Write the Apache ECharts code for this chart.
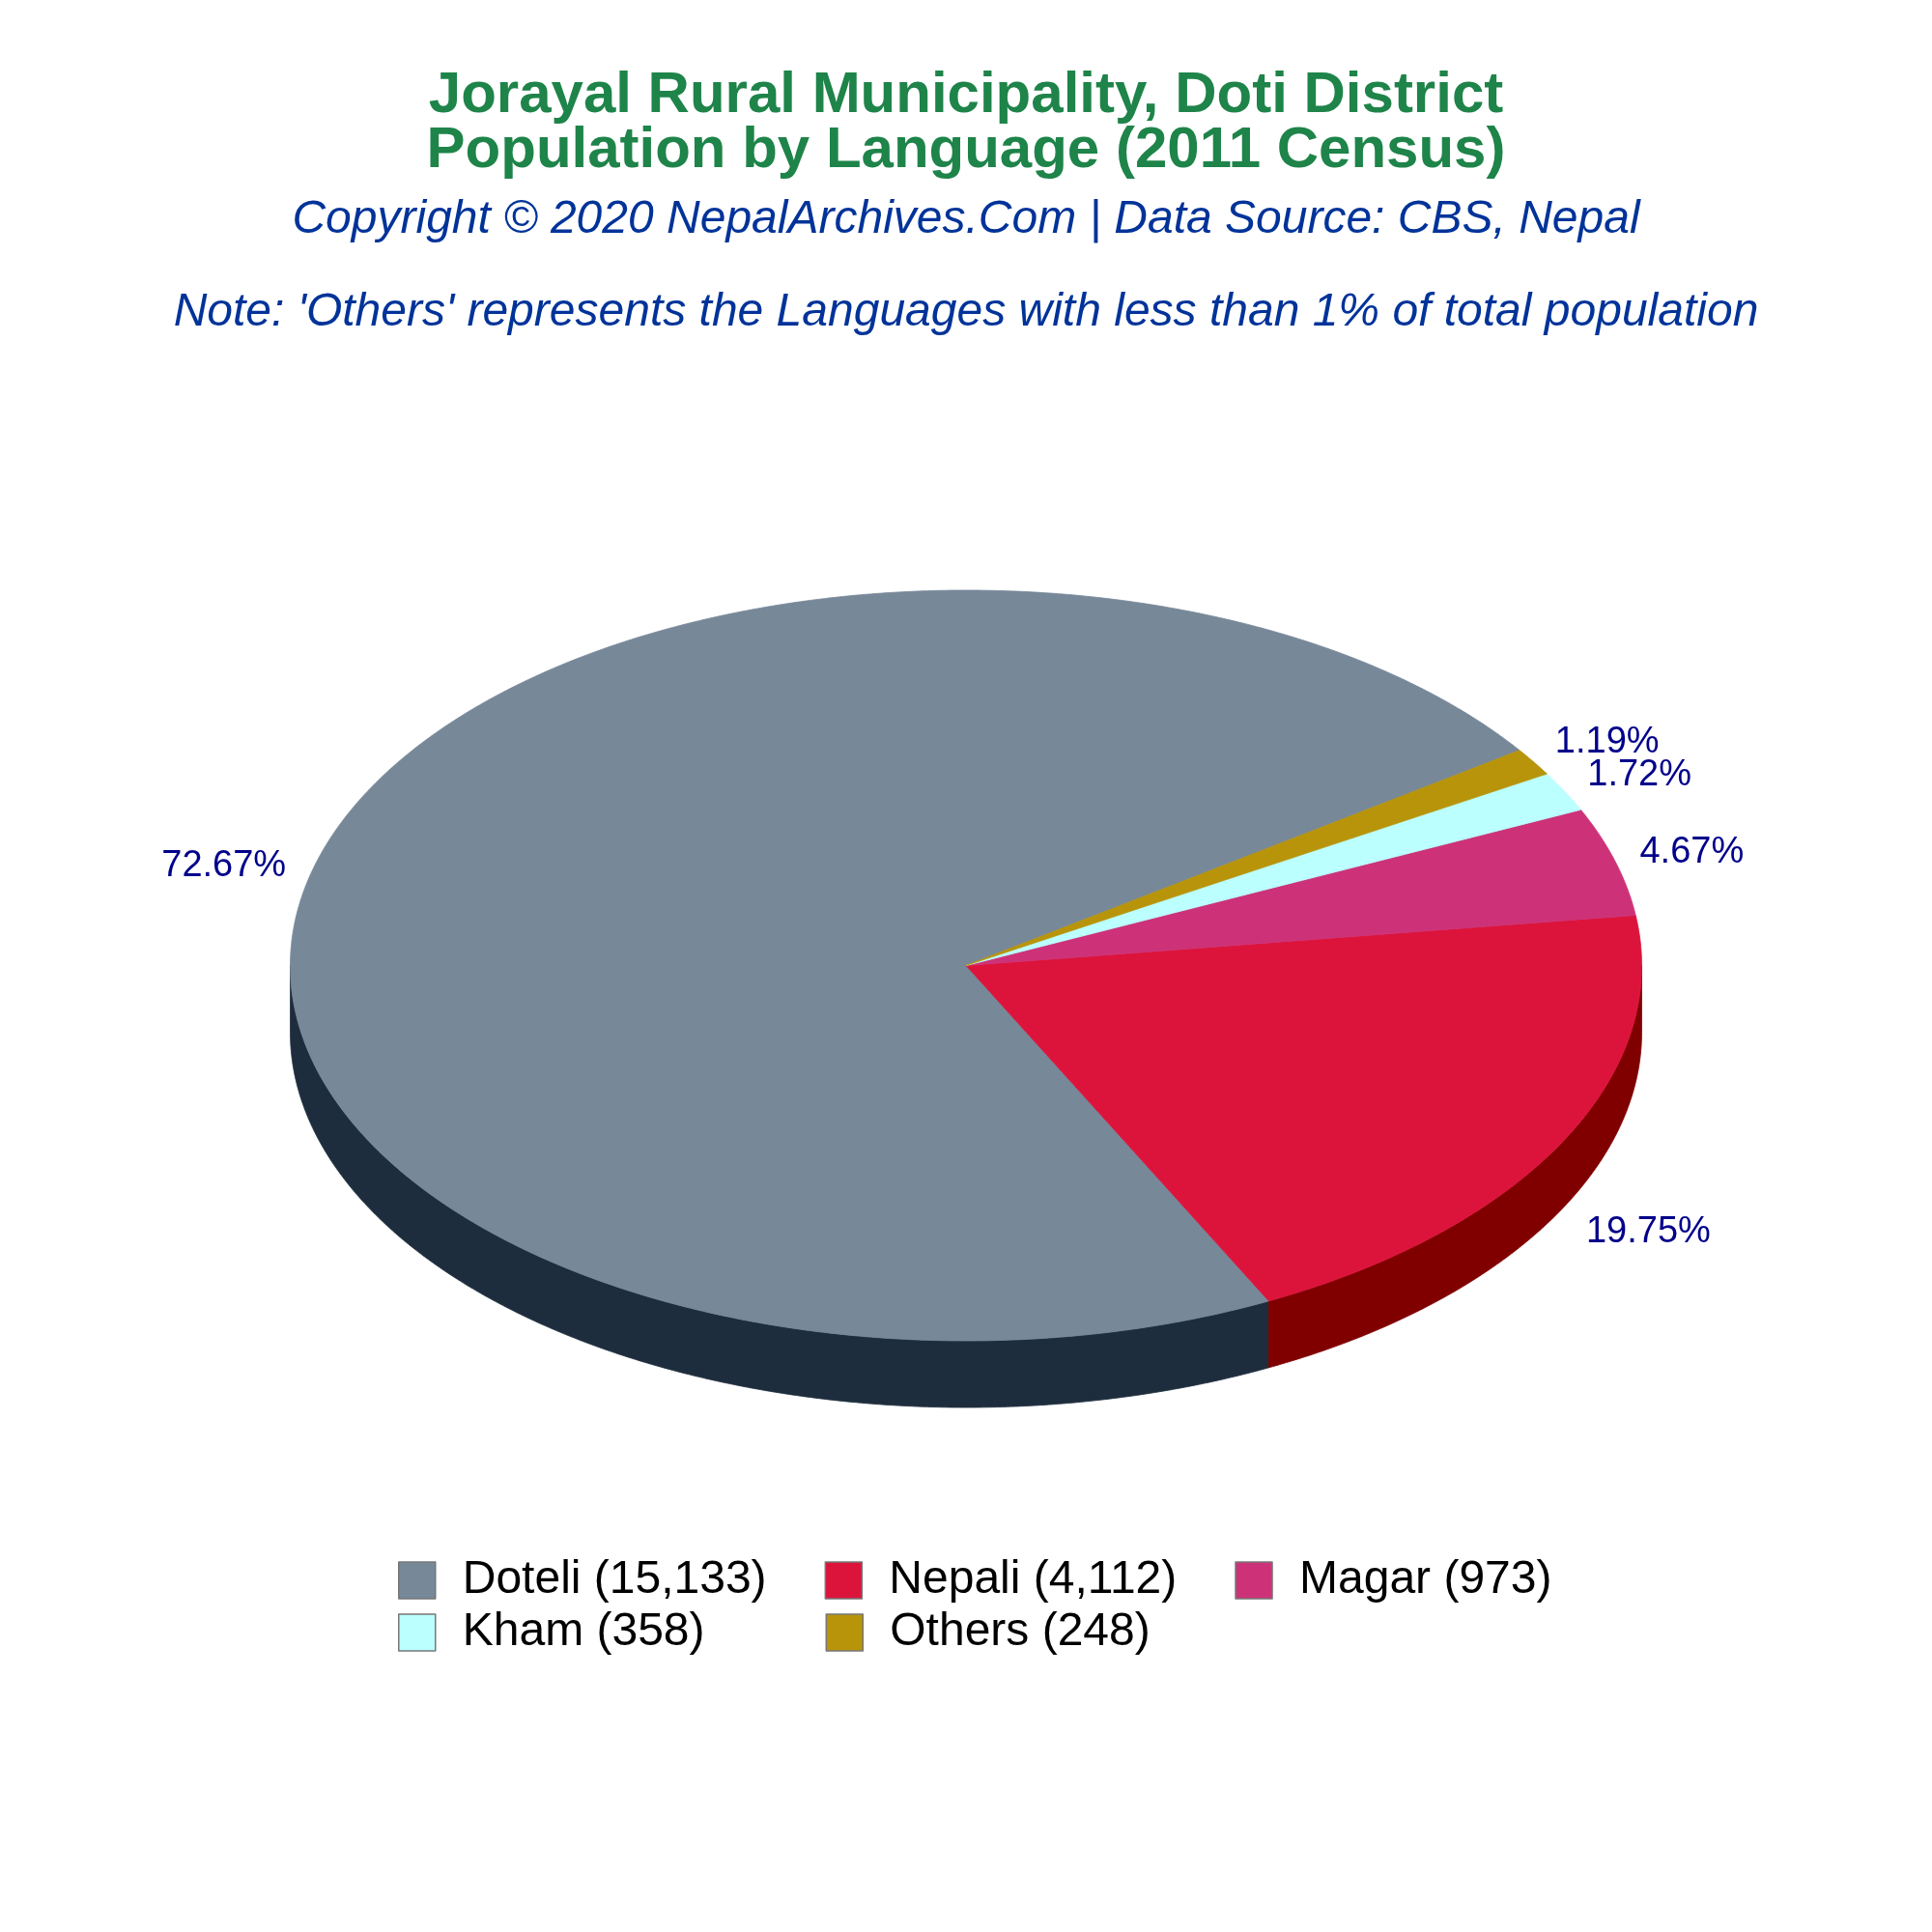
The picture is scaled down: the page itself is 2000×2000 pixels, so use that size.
<!DOCTYPE html>
<html><head><meta charset="utf-8">
<script src="https://cdn.jsdelivr.net/npm/echarts@6/dist/echarts.min.js"></script>
<style>html,body{margin:0;padding:0;background:#fff}#c{width:2000px;height:2000px}</style>
</head><body><div id="c"></div>
<script>
const titleLines = ['Jorayal Rural Municipality, Doti District', 'Population by Language (2011 Census)'];
const subtitleText = 'Copyright © 2020 NepalArchives.Com | Data Source: CBS, Nepal';
const noteText = "Note: 'Others' represents the Languages with less than 1% of total population";
const languages = ['Doteli', 'Nepali', 'Magar', 'Kham', 'Others'];
const population = [15133, 4112, 973, 358, 248];
const topColors = ['#778899', '#DC143C', '#CD3278', '#BBFFFF', '#B8940A'];
const sideColors = ['#1E2D3E', '#800000', '#7A1E48', '#70A0A0', '#6E5806'];
const legendRow1 = ['Doteli', 'Nepali', 'Magar'];
const legendRow2 = ['Kham', 'Others'];

const FONT = '"Liberation Sans", Arial, sans-serif';
const CX = 1000, CY = 999.5, RX = 699.5, RY = 388.5, DEPTH = 69, START = 35;
const LX = 726, LY = 432;
const total = population.reduce((a, b) => a + b, 0);
const starts = [];
let acc = START;
population.forEach(v => { starts.push(acc); acc += v / total * 360; });

function pt(deg, dy) {
  const r = deg * Math.PI / 180;
  return [CX + RX * Math.cos(r), CY - RY * Math.sin(r) + (dy || 0)];
}
function arc(a1, a2, dy) {
  const n = Math.max(2, Math.ceil((a2 - a1) / 0.4));
  const pts = [];
  for (let i = 0; i <= n; i++) pts.push(pt(a1 + (a2 - a1) * i / n, dy));
  return pts;
}

const chart = echarts.init(document.getElementById('c'), null, {renderer: 'canvas'});
chart.setOption({
  backgroundColor: '#ffffff',
  animation: false,
  title: [
    {text: titleLines.join('\n'), left: 'center', top: 71, padding: 0,
     textStyle: {fontSize: 60, fontWeight: 'bold', color: '#1E8449', lineHeight: 57, fontFamily: FONT}},
    {text: subtitleText, left: 'center', top: 204, padding: 0,
     textStyle: {fontSize: 48, fontStyle: 'italic', fontWeight: 'normal', color: '#003399', fontFamily: FONT}},
    {text: noteText, left: 'center', top: 300, padding: 0,
     textStyle: {fontSize: 48, fontStyle: 'italic', fontWeight: 'normal', color: '#003399', fontFamily: FONT}}
  ],
  legend: [
    {data: legendRow1, left: 412, top: 1612, padding: 0, itemGap: 60, itemWidth: 38, itemHeight: 38, icon: 'rect',
     itemStyle: {borderColor: '#777777', borderWidth: 1.5},
     formatter: n => n + ' (' + population[languages.indexOf(n)].toLocaleString('en-US') + ')',
     textStyle: {fontSize: 48, color: '#000000', fontFamily: FONT, padding: [0, 0, 0, 23]}},
    {data: legendRow2, left: 412, top: 1666, padding: 0, itemGap: 125, itemWidth: 38, itemHeight: 38, icon: 'rect',
     itemStyle: {borderColor: '#777777', borderWidth: 1.5},
     formatter: n => n + ' (' + population[languages.indexOf(n)].toLocaleString('en-US') + ')',
     textStyle: {fontSize: 48, color: '#000000', fontFamily: FONT, padding: [0, 0, 0, 23]}}
  ],
  series: [
    {
      type: 'pie', center: [-3000, -3000], radius: [0, 1], silent: true,
      label: {show: false}, labelLine: {show: false},
      data: languages.map((n, i) => ({name: n, value: population[i], itemStyle: {color: topColors[i]}}))
    },
    {
      type: 'custom', coordinateSystem: 'none', silent: true,
      data: languages.map((n, i) => [i, population[i]]),
      renderItem: function (params, api) {
        const i = params.dataIndex;
        const a1 = starts[i], a2 = a1 + population[i] / total * 360;
        const children = [];
        [[180, 360], [540, 720]].forEach(([lo, hi]) => {
          const s = Math.max(a1, lo), e = Math.min(a2, hi);
          if (e > s) {
            const topPts = arc(s, e, 0);
            const botPts = arc(s, e, DEPTH).reverse();
            children.push({type: 'polygon', z2: 1, shape: {points: topPts.concat(botPts)},
              style: {fill: sideColors[i], stroke: sideColors[i], lineWidth: 0.8}});
          }
        });
        children.push({type: 'polygon', z2: 5, shape: {points: [[CX, CY]].concat(arc(a1, a2, 0))},
          style: {fill: topColors[i], stroke: topColors[i], lineWidth: 0.8}});
        const mid = (a1 + a2) / 2 * Math.PI / 180;
        const c = Math.cos(mid), s = Math.sin(mid);
        const lx = CX + LX * c, ly = CY - LY * s + (s < 0 ? DEPTH + 5 : 3);
        children.push({type: 'text', z2: 10, style: {
          x: lx, y: ly, text: (population[i] / total * 100).toFixed(2) + '%',
          fill: '#00008B', font: '38px ' + FONT, align: c > 0 ? 'left' : 'right', verticalAlign: 'middle'}});
        return {type: 'group', children: children};
      }
    }
  ]
});
</script>
</body></html>
